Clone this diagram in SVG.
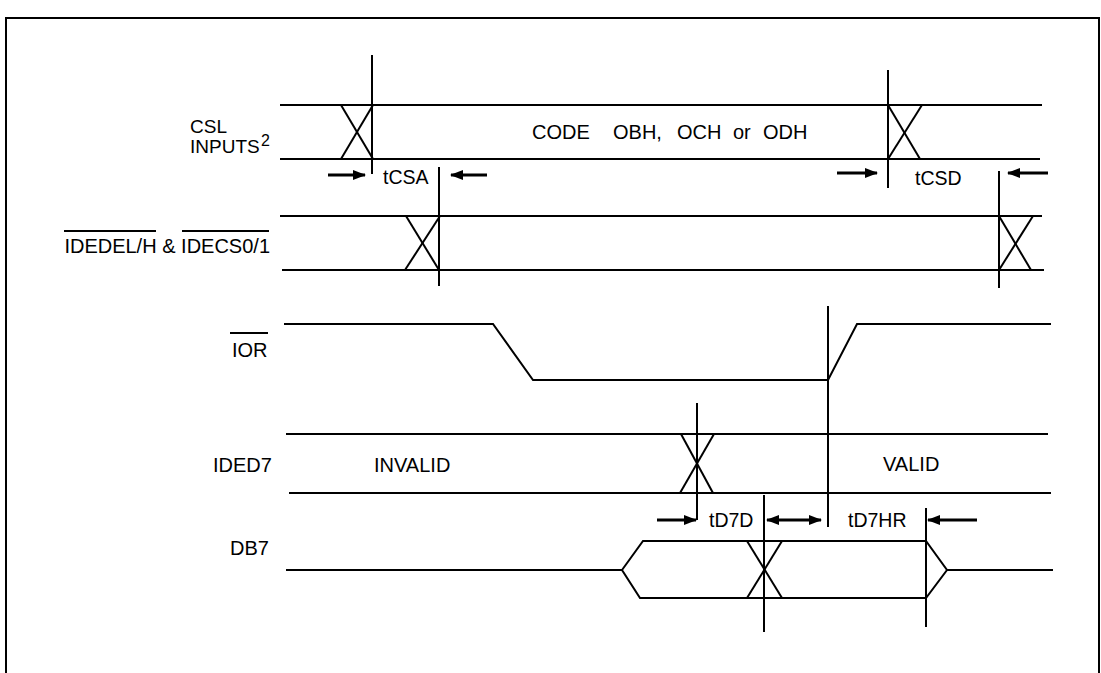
<svg xmlns="http://www.w3.org/2000/svg" width="1101" height="673" viewBox="0 0 1101 673">
<style>
.s{fill:none;stroke:#000;stroke-width:2;stroke-linecap:butt}
.v{fill:none;stroke:#000;stroke-width:2}
.a{fill:none;stroke:#000;stroke-width:3}
text{font-family:"Liberation Sans",Arial,sans-serif;font-size:20px;fill:#000}
.t{font-size:19.5px}
</style>
<defs>
<marker id="ah" markerUnits="userSpaceOnUse" markerWidth="13" markerHeight="10" refX="12" refY="5" orient="auto-start-reverse">
<path d="M0,0 L13,5 L0,10 z" fill="#000"/>
</marker>
</defs>
<rect width="1101" height="673" fill="#fff"/>
<path id="frame" class="s" d="M6,673 V18 H1099 V673"/>

<g id="csl">
<text x="190" y="133" style="font-size:19px">CSL</text>
<text x="190" y="153" style="font-size:19px">INPUTS</text>
<text x="261" y="146" style="font-size:16px">2</text>
<line class="s" x1="280" y1="105" x2="1042" y2="105"/>
<line class="s" x1="280" y1="159" x2="1040" y2="159"/>
<line class="s" x1="341" y1="105" x2="373" y2="159"/>
<line class="s" x1="341" y1="159" x2="373" y2="105"/>
<line class="s" x1="888" y1="105" x2="920" y2="159"/>
<line class="s" x1="888" y1="159" x2="922" y2="105"/>
<text x="532" y="139">CODE</text>
<text x="613" y="139">OBH,</text>
<text x="677" y="139">OCH</text>
<text x="733" y="139">or</text>
<text x="763" y="139">ODH</text>
</g>

<g id="idedel">
<text x="270" y="253" text-anchor="end">IDEDEL/H &amp; IDECS0/1</text>
<line class="s" x1="64" y1="231" x2="156" y2="231"/>
<line class="s" x1="182" y1="231" x2="269" y2="231"/>
<line class="s" x1="280" y1="216" x2="1042" y2="216"/>
<line class="s" x1="282" y1="270" x2="1044" y2="270"/>
<line class="s" x1="406" y1="216" x2="439" y2="270"/>
<line class="s" x1="405" y1="270" x2="440" y2="216"/>
<line class="s" x1="999" y1="216" x2="1031" y2="270"/>
<line class="s" x1="999" y1="270" x2="1033" y2="216"/>
</g>

<g id="ior">
<text x="232" y="357">IOR</text>
<line class="s" x1="230" y1="333" x2="268" y2="333"/>
<polyline class="s" points="284,324 493,324 533,380 828,380 857,324 1051,324"/>
</g>

<g id="ided7">
<text x="213" y="472">IDED7</text>
<text x="374" y="472">INVALID</text>
<text x="883" y="471">VALID</text>
<line class="s" x1="286" y1="434" x2="1048" y2="434"/>
<line class="s" x1="289" y1="493" x2="1051" y2="493"/>
<line class="s" x1="681" y1="434" x2="713" y2="493"/>
<line class="s" x1="680" y1="493" x2="714" y2="434"/>
</g>

<g id="db7">
<text x="230" y="555">DB7</text>
<line class="s" x1="286" y1="570" x2="622" y2="570"/>
<polygon class="s" points="622,570 643,541 926,541 947,570 926,598 640,598"/>
<line class="s" x1="947" y1="570" x2="1053" y2="570"/>
<line class="s" x1="747" y1="541" x2="782" y2="598"/>
<line class="s" x1="747" y1="598" x2="782" y2="541"/>
</g>

<g id="connectors">
<line class="v" x1="372" y1="55" x2="372" y2="174"/>
<line class="v" x1="439" y1="167" x2="439" y2="286"/>
<line class="v" x1="888" y1="70" x2="888" y2="188"/>
<line class="v" x1="999" y1="171" x2="999" y2="288"/>
<line class="v" x1="697" y1="403" x2="697" y2="520"/>
<line class="v" x1="828" y1="306" x2="828" y2="527"/>
<line class="v" x1="764" y1="495" x2="764" y2="632"/>
<line class="v" x1="926" y1="508" x2="926" y2="627"/>
<line class="a" x1="328" y1="175" x2="365" y2="175" marker-end="url(#ah)"/>
<line class="a" x1="487" y1="175" x2="451" y2="175" marker-end="url(#ah)"/>
<line class="a" x1="837" y1="173" x2="877" y2="173" marker-end="url(#ah)"/>
<line class="a" x1="1048" y1="173" x2="1008" y2="173" marker-end="url(#ah)"/>
<line class="a" x1="657" y1="520" x2="696" y2="520" marker-end="url(#ah)"/>
<line class="a" x1="767" y1="520" x2="821" y2="520" marker-start="url(#ah)" marker-end="url(#ah)"/>
<line class="a" x1="977" y1="520" x2="928" y2="520" marker-end="url(#ah)"/>
<text class="t" x="383" y="184">tCSA</text>
<text class="t" x="915" y="185">tCSD</text>
<text class="t" x="709" y="527">tD7D</text>
<text class="t" x="848" y="527">tD7HR</text>
</g>
</svg>
